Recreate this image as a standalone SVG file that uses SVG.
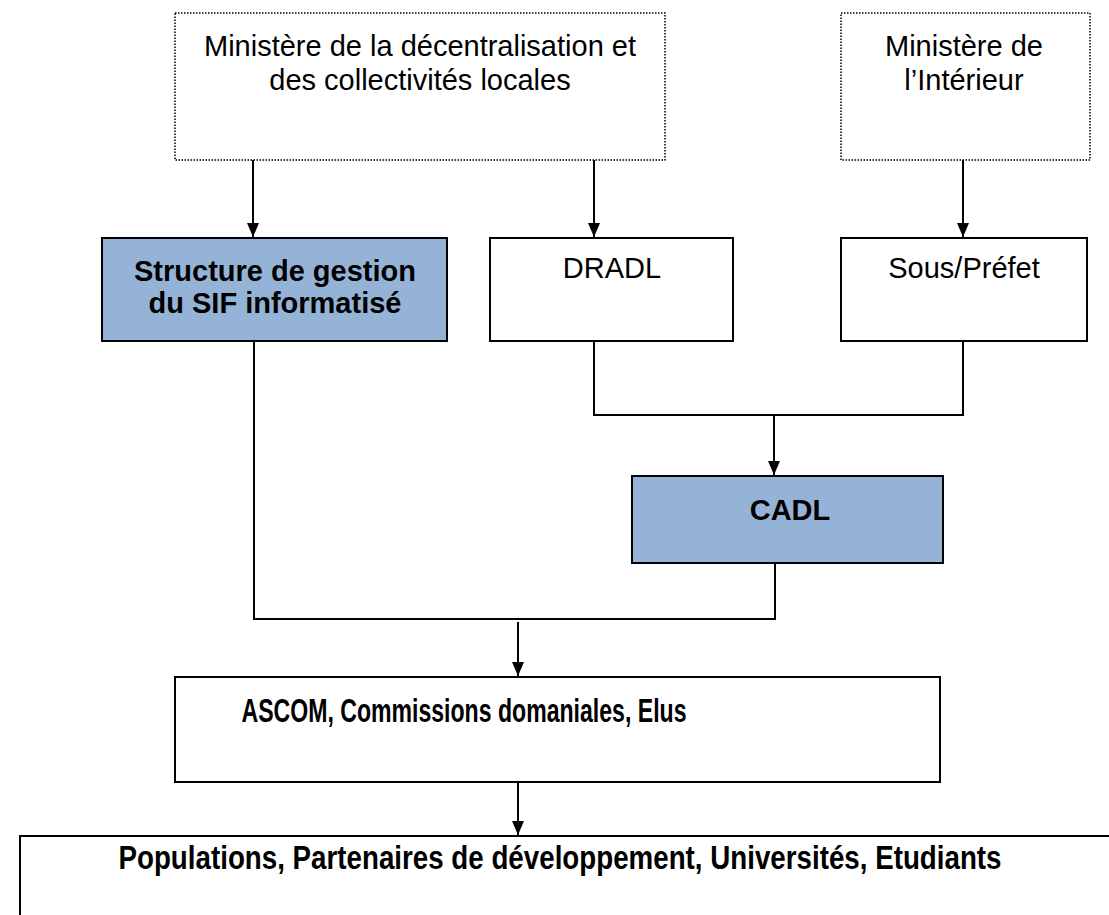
<svg xmlns="http://www.w3.org/2000/svg" width="1109" height="915" viewBox="0 0 1109 915">
<style>
.dot{fill:#fff;stroke:#000;stroke-width:1.5;stroke-dasharray:1.5 1.5}
.box{fill:#fff;stroke:#000;stroke-width:2}
.blue{fill:#95B3D7;stroke:#000;stroke-width:2}
.t{font-family:"Liberation Sans",Arial,sans-serif;font-size:29px;fill:#000;text-anchor:middle}
.b{font-weight:bold}
.c{fill:none;stroke:#000;stroke-width:2}
</style>
<defs>
<marker id="arr" markerWidth="14" markerHeight="12" refX="14" refY="6" orient="auto" markerUnits="userSpaceOnUse">
<path d="M0,0 L14,6 L0,12 Z" fill="#000"/>
</marker>
</defs>
<rect width="1109" height="915" fill="#fff"/>
<g id="connectors">
<line class="c" x1="253" y1="160" x2="253" y2="237" marker-end="url(#arr)"/>
<line class="c" x1="594" y1="160" x2="594" y2="237" marker-end="url(#arr)"/>
<line class="c" x1="963" y1="160" x2="963" y2="237" marker-end="url(#arr)"/>
<polyline class="c" points="594,341 594,415 963,415 963,341"/>
<line class="c" x1="774" y1="415" x2="774" y2="475" marker-end="url(#arr)"/>
<polyline class="c" points="254,341 254,619 775,619 775,563"/>
<line class="c" x1="518" y1="622" x2="518" y2="676" marker-end="url(#arr)"/>
<line class="c" x1="518" y1="782" x2="518" y2="835" marker-end="url(#arr)"/>
</g>
<g id="min-decentralisation">
<rect class="dot" x="175" y="13" width="490" height="147"/>
<text class="t" x="420" y="56">Ministère de la décentralisation et</text>
<text class="t" x="420" y="90">des collectivités locales</text>
</g>
<g id="min-interieur">
<rect class="dot" x="841" y="13" width="249" height="147"/>
<text class="t" x="964" y="56">Ministère de</text>
<text class="t" x="964" y="90">l’Intérieur</text>
</g>
<g id="structure-sif">
<rect class="blue" x="102" y="238" width="345" height="103"/>
<text class="t b" x="275" y="281">Structure de gestion</text>
<text class="t b" x="275" y="313">du SIF informatisé</text>
</g>
<g id="dradl">
<rect class="box" x="490" y="238" width="243" height="103"/>
<text class="t" x="612" y="278">DRADL</text>
</g>
<g id="sous-prefet">
<rect class="box" x="841" y="238" width="246" height="103"/>
<text class="t" x="964" y="278">Sous/Préfet</text>
</g>
<g id="cadl">
<rect class="blue" x="632" y="476" width="311" height="87"/>
<text class="t b" x="790" y="520">CADL</text>
</g>
<g id="ascom">
<rect class="box" x="175" y="677" width="765" height="105"/>
<text class="t b" x="464" y="722" style="font-size:33px" textLength="445" lengthAdjust="spacingAndGlyphs">ASCOM, Commissions domaniales, Elus</text>
</g>
<g id="populations">
<path class="c" d="M20,915 L20,836 L1109,836"/>
<text class="t b" x="560" y="869" style="font-size:33px" textLength="883" lengthAdjust="spacingAndGlyphs">Populations, Partenaires de développement, Universités, Etudiants</text>
</g>
</svg>
